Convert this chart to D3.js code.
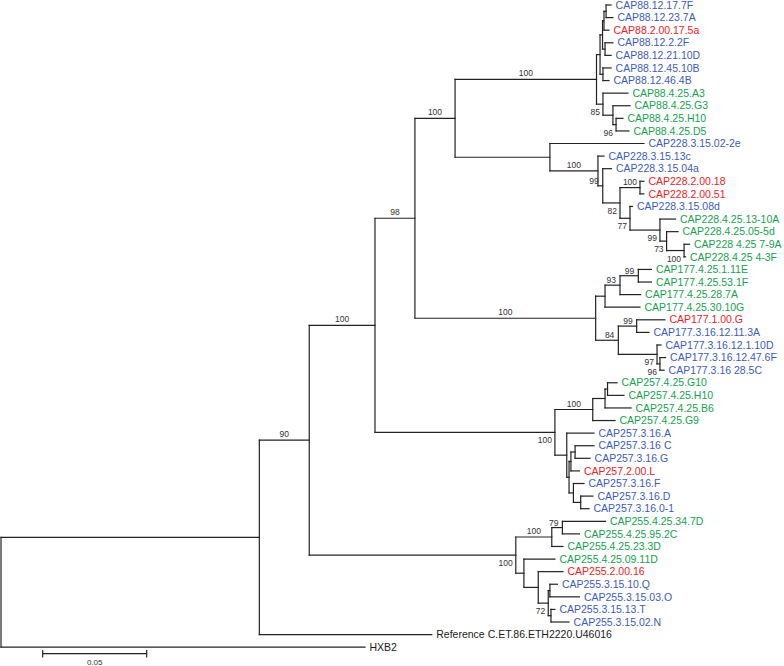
<!DOCTYPE html>
<html><head><meta charset="utf-8">
<script src="https://cdn.jsdelivr.net/npm/d3@7"></script>
<style>body{margin:0;background:#fff}</style>
</head><body>
<svg id="chart" width="784" height="666"></svg>
<script>
// rows: [node id, parent id, distance from root (subst./site), sample group]
const backbone = [
  ["root", null, 0, ""],
  ["a", "root", 0.1242, ""],
  ["b", "a", 0.1482, ""],
  ["c", "b", 0.1798, ""],
  ["d", "c", 0.1990, ""],
  ["e", "d", 0.2183, ""]
];
const cap88 = [
  ["C88", "e", 0.2863, ""],
  ["B88", "C88", 0.2880, ""],
  ["B88a", "B88", 0.2892, ""],
  ["B88j", "B88a", 0.2899, ""],
  ["B88x", "B88j", 0.2909, ""],
  ["CAP88.12.17.7F", "B88x", 0.2933, "t2"],
  ["CAP88.12.23.7A", "B88x", 0.2942, "t2"],
  ["CAP88.2.00.17.5a", "B88j", 0.2923, "t1"],
  ["B88c", "B88a", 0.2904, ""],
  ["CAP88.12.2.2F", "B88c", 0.2942, "t2"],
  ["CAP88.12.21.10D", "B88c", 0.2933, "t2"],
  ["B88d", "B88", 0.2894, ""],
  ["CAP88.12.45.10B", "B88d", 0.2933, "t2"],
  ["CAP88.12.46.4B", "B88d", 0.2923, "t2"],
  ["G88", "C88", 0.2894, ""],
  ["CAP88.4.25.A3", "G88", 0.3014, "t3"],
  ["G88b", "G88", 0.2942, ""],
  ["CAP88.4.25.G3", "G88b", 0.3024, "t3"],
  ["G88c", "G88b", 0.2957, ""],
  ["CAP88.4.25.H10", "G88c", 0.2990, "t3"],
  ["CAP88.4.25.D5", "G88c", 0.3019, "t3"]
];
const cap228 = [
  ["C228", "e", 0.2639, ""],
  ["CAP228.3.15.02-2e", "C228", 0.3091, "t2"],
  ["K1", "C228", 0.2870, ""],
  ["CAP228.3.15.13c", "K1", 0.2899, "t2"],
  ["K2", "K1", 0.2893, ""],
  ["CAP228.3.15.04a", "K2", 0.2935, "t2"],
  ["K3", "K2", 0.2976, ""],
  ["K4", "K3", 0.3072, ""],
  ["CAP228.2.00.18", "K4", 0.3091, "t1"],
  ["CAP228.2.00.51", "K4", 0.3091, "t1"],
  ["K5", "K3", 0.3024, ""],
  ["CAP228.3.15.08d", "K5", 0.3036, "t2"],
  ["K6", "K5", 0.3168, ""],
  ["CAP228.4.25.13-10A", "K6", 0.3243, "t3"],
  ["K7", "K6", 0.3200, ""],
  ["CAP228.4.25.05-5d", "K7", 0.3255, "t3"],
  ["K8", "K7", 0.3284, ""],
  ["CAP228 4.25 7-9A", "K8", 0.3310, "t3"],
  ["CAP228.4.25 4-3F", "K8", 0.3291, "t3"]
];
const cap177 = [
  ["C177", "d", 0.2859, ""],
  ["P3", "C177", 0.2904, ""],
  ["P2", "P3", 0.2976, ""],
  ["P1", "P2", 0.3064, ""],
  ["CAP177.4.25.1.11E", "P1", 0.3127, "t3"],
  ["CAP177.4.25.53.1F", "P1", 0.3127, "t3"],
  ["CAP177.4.25.28.7A", "P2", 0.3075, "t3"],
  ["CAP177.4.25.30.10G", "P3", 0.3072, "t3"],
  ["Q4", "C177", 0.2968, ""],
  ["Q1", "Q4", 0.3056, ""],
  ["CAP177.1.00.G", "Q1", 0.3192, "t1"],
  ["CAP177.3.16.12.11.3A", "Q1", 0.3115, "t2"],
  ["Q3", "Q4", 0.3154, ""],
  ["CAP177.3.16.12.1.10D", "Q3", 0.3173, "t2"],
  ["Q2", "Q3", 0.3168, ""],
  ["CAP177.3.16.12.47.6F", "Q2", 0.3195, "t2"],
  ["CAP177.3.16 28.5C", "Q2", 0.3188, "t2"]
];
const cap257 = [
  ["C257", "c", 0.2663, ""],
  ["G257", "C257", 0.2845, ""],
  ["G257a", "G257", 0.2904, ""],
  ["G257b", "G257a", 0.2916, ""],
  ["CAP257.4.25.G10", "G257b", 0.2962, "t3"],
  ["CAP257.4.25.H10", "G257b", 0.2995, "t3"],
  ["CAP257.4.25.B6", "G257a", 0.3029, "t3"],
  ["CAP257.4.25.G9", "G257", 0.2952, "t3"],
  ["B257", "C257", 0.2720, ""],
  ["CAP257.3.16.A", "B257", 0.2851, "t2"],
  ["B257x", "B257", 0.2731, ""],
  ["B257y", "B257x", 0.2740, ""],
  ["B257cg", "B257y", 0.2760, ""],
  ["CAP257.3.16 C", "B257cg", 0.2851, "t2"],
  ["CAP257.3.16.G", "B257cg", 0.2832, "t2"],
  ["CAP257.2.00.L", "B257y", 0.2781, "t1"],
  ["B257z", "B257x", 0.2752, ""],
  ["CAP257.3.16.F", "B257z", 0.2803, "t2"],
  ["B257d", "B257z", 0.2787, ""],
  ["CAP257.3.16.D", "B257d", 0.2846, "t2"],
  ["CAP257.3.16.0-1", "B257d", 0.2827, "t2"]
];
const cap255 = [
  ["C255", "b", 0.2475, ""],
  ["G255", "C255", 0.2648, ""],
  ["G255a", "G255", 0.2699, ""],
  ["CAP255.4.25.34.7D", "G255a", 0.2906, "t3"],
  ["CAP255.4.25.95.2C", "G255a", 0.2781, "t3"],
  ["CAP255.4.25.23.3D", "G255", 0.2702, "t3"],
  ["B255", "C255", 0.2514, ""],
  ["CAP255.4.25.09.11D", "B255", 0.2663, "t3"],
  ["B255b", "B255", 0.2583, ""],
  ["CAP255.2.00.16", "B255b", 0.2702, "t1"],
  ["B255c", "B255b", 0.2631, ""],
  ["B255d", "B255c", 0.2639, ""],
  ["CAP255.3.15.10.Q", "B255d", 0.2675, "t2"],
  ["CAP255.3.15.03.O", "B255d", 0.2781, "t2"],
  ["B255e", "B255c", 0.2644, ""],
  ["CAP255.3.15.13.T", "B255e", 0.2663, "t2"],
  ["CAP255.3.15.02.N", "B255e", 0.2731, "t2"]
];
const references = [
  ["Reference C.ET.86.ETH2220.U46016", "a", 0.2071, "ref"],
  ["HXB2", "root", 0.1750, "ref"]
];
// bootstrap support values (>= 70 shown)
const bootNodes  = ["b","c","d","e","C88","G88","G88c","K1","K2","K3","K4","K5","K6","K7","K8",
                    "C177","P2","P1","Q4","Q1","Q3","Q2","C257","G257","C255","G255","G255a","B255c"];
const bootValues = [90,100,98,100,100,85,96,100,99,82,100,77,99,73,100,
                    100,93,99,84,99,97,96,100,100,100,100,79,72];
const scaleBarValue = 0.05;
const groups = ["t1","t2","t3","ref"];

// ---------- layout config ----------
const groupColors = ["#ec2227","#3c5cb6","#17a04e","#1a1a1a"];
const belowLeft = new Set(["G88","G88c","K3","K5","K6","K7","K8","Q3","Q2","C257","C255","B255c"]);
const aboveLeft = new Set(["K2","P2","P1","Q4","Q1","G255a"]);

const rows = [].concat(backbone, cap88, cap228, cap177, cap257, cap255, references);
const root = d3.stratify().id(r => r[0]).parentId(r => r[1])(rows);

const x = d3.scaleLinear().domain([0, scaleBarValue]).range([1, 105]);
const leaves = root.leaves();
const y = d3.scaleLinear().domain([0, leaves.length - 1]).range([5, 647.2]);
leaves.forEach((l, i) => l.py = y(i));
root.eachAfter(n => {
  if (n.children) n.py = (n.children[0].py + n.children[n.children.length - 1].py) / 2;
});
root.each(n => n.px = x(n.data[2]));
const color = d3.scaleOrdinal().domain(groups).range(groupColors);

const svg = d3.select("#chart");
const lineColor = "#222";
const g = svg.append("g").attr("stroke", lineColor).attr("stroke-width", 1.2).attr("fill", "none")
  .attr("stroke-linecap", "square");

// horizontal branches
g.selectAll("line.h").data(root.descendants().filter(n => n.parent)).join("line")
  .attr("class", "h")
  .attr("x1", n => n.parent.px).attr("x2", n => n.px)
  .attr("y1", n => n.py).attr("y2", n => n.py);
// vertical connectors
g.selectAll("line.v").data(root.descendants().filter(n => n.children)).join("line")
  .attr("class", "v")
  .attr("x1", n => n.px).attr("x2", n => n.px)
  .attr("y1", n => n.children[0].py).attr("y2", n => n.children[n.children.length - 1].py);

// leaf labels
svg.append("g").selectAll("text").data(leaves).join("text")
  .attr("x", n => n.px + 4.5).attr("y", n => n.py).attr("dy", "0.35em")
  .attr("font-family", "'Liberation Sans', Arial, Helvetica, sans-serif")
  .attr("font-size", "10.5px")
  .attr("fill", n => color(n.data[3]))
  .text(n => n.id);

// bootstrap labels
const bootData = bootNodes.map((id, i) => ({node: root.find(n => n.id === id), v: bootValues[i]}));
svg.append("g").selectAll("text").data(bootData).join("text")
  .attr("font-family", "'Liberation Sans', Arial, Helvetica, sans-serif")
  .attr("font-size", "8.5px").attr("fill", "#333")
  .each(function(d) {
    const n = d.node, t = d3.select(this);
    if (belowLeft.has(n.id)) {
      t.attr("x", n.px - 3).attr("y", n.py + 11).attr("text-anchor", "end");
    } else if (aboveLeft.has(n.id)) {
      t.attr("x", n.px - 4).attr("y", n.py - 2).attr("text-anchor", "end");
    } else {
      t.attr("x", (n.parent.px + n.px) / 2).attr("y", n.py - 3).attr("text-anchor", "middle");
    }
  })
  .text(d => d.v);

// scale bar
const sbX0 = 42.7, sbY = 653.7, sbLen = x(scaleBarValue) - x(0);
const sb = svg.append("g").attr("stroke", lineColor).attr("stroke-width", 1.2);
sb.append("line").attr("x1", sbX0).attr("x2", sbX0 + sbLen).attr("y1", sbY).attr("y2", sbY);
sb.append("line").attr("x1", sbX0).attr("x2", sbX0).attr("y1", sbY - 3.7).attr("y2", sbY + 3.7);
sb.append("line").attr("x1", sbX0 + sbLen).attr("x2", sbX0 + sbLen).attr("y1", sbY - 3.7).attr("y2", sbY + 3.7);
svg.append("text").attr("x", sbX0 + sbLen / 2).attr("y", 665)
  .attr("text-anchor", "middle").attr("font-family", "'Liberation Sans', Arial, sans-serif")
  .attr("font-size", "8px").attr("fill", "#333").text(scaleBarValue);
</script>
</body></html>
